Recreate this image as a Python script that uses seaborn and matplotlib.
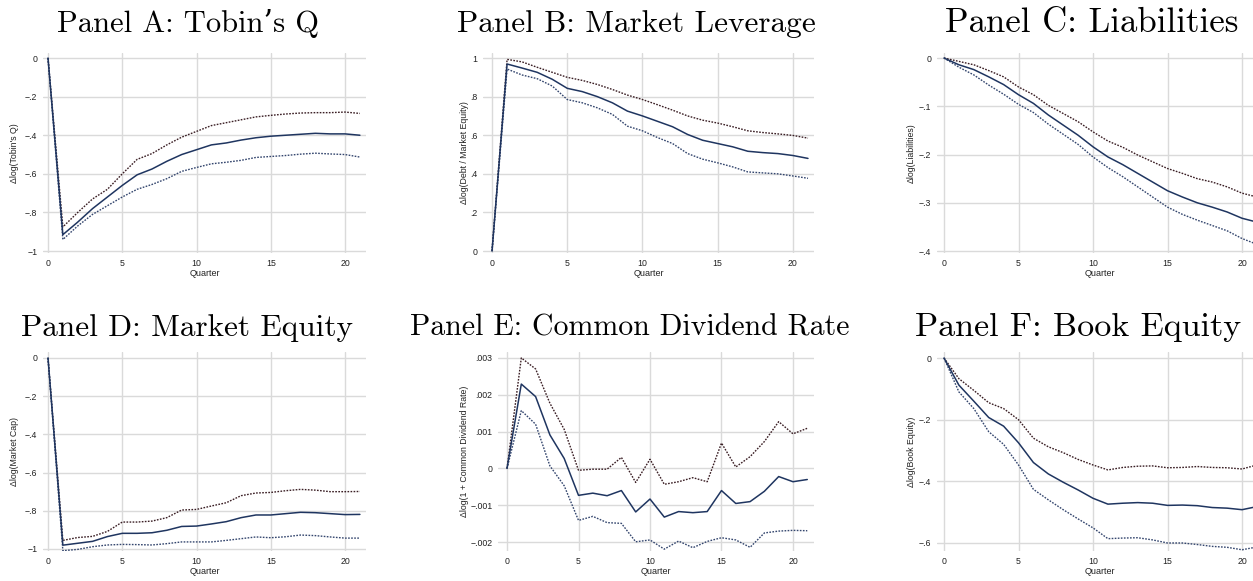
import numpy as np
import pandas as pd
import matplotlib
matplotlib.use("Agg")
import matplotlib.pyplot as plt
import seaborn as sns

# ---------------- data ----------------
quarters = list(range(22))

tobin_est = [0, -0.915, -0.85, -0.78, -0.72, -0.66, -0.605, -0.575, -0.535, -0.50, -0.475,
             -0.45, -0.44, -0.425, -0.413, -0.405, -0.40, -0.395, -0.39, -0.393, -0.393, -0.40]
tobin_hi = [0, -0.875, -0.80, -0.73, -0.68, -0.60, -0.525, -0.495, -0.45, -0.41, -0.38,
            -0.35, -0.335, -0.32, -0.305, -0.297, -0.29, -0.285, -0.283, -0.283, -0.28, -0.287]
tobin_lo = [0, -0.94, -0.87, -0.81, -0.765, -0.72, -0.68, -0.655, -0.625, -0.587, -0.567,
            -0.548, -0.54, -0.53, -0.515, -0.51, -0.505, -0.498, -0.493, -0.497, -0.50, -0.513]

lev_est = [0, 0.969, 0.948, 0.926, 0.89, 0.843, 0.826, 0.80, 0.768, 0.725, 0.70,
           0.672, 0.644, 0.604, 0.574, 0.557, 0.54, 0.517, 0.51, 0.505, 0.495, 0.48]
lev_hi = [0, 0.993, 0.98, 0.952, 0.926, 0.90, 0.884, 0.863, 0.837, 0.808, 0.785,
          0.758, 0.73, 0.70, 0.678, 0.663, 0.644, 0.623, 0.614, 0.607, 0.599, 0.585]
lev_lo = [0, 0.943, 0.912, 0.893, 0.855, 0.785, 0.768, 0.742, 0.708, 0.647, 0.623,
          0.588, 0.557, 0.505, 0.476, 0.457, 0.436, 0.41, 0.405, 0.40, 0.389, 0.377]

liab_est = [0, -0.014, -0.024, -0.039, -0.055, -0.076, -0.094, -0.118, -0.139, -0.16, -0.184,
            -0.205, -0.221, -0.239, -0.257, -0.275, -0.288, -0.30, -0.309, -0.319, -0.332, -0.34]
liab_hi = [0, -0.007, -0.014, -0.026, -0.039, -0.06, -0.076, -0.098, -0.115, -0.132, -0.153,
           -0.172, -0.185, -0.201, -0.215, -0.229, -0.239, -0.25, -0.257, -0.267, -0.28, -0.288]
liab_lo = [0, -0.019, -0.035, -0.056, -0.075, -0.096, -0.113, -0.137, -0.158, -0.179, -0.205,
           -0.227, -0.246, -0.267, -0.288, -0.309, -0.324, -0.336, -0.347, -0.358, -0.374, -0.386]

mcap_est = [0, -0.98, -0.97, -0.96, -0.935, -0.918, -0.918, -0.915, -0.902, -0.882, -0.88,
            -0.869, -0.857, -0.836, -0.822, -0.822, -0.815, -0.808, -0.81, -0.815, -0.82, -0.819]
mcap_hi = [0, -0.955, -0.94, -0.934, -0.908, -0.859, -0.859, -0.854, -0.836, -0.796, -0.793,
           -0.775, -0.758, -0.721, -0.707, -0.704, -0.695, -0.688, -0.692, -0.70, -0.70, -0.699]
mcap_lo = [0, -1.009, -1.002, -0.988, -0.979, -0.976, -0.977, -0.979, -0.972, -0.963, -0.963,
           -0.963, -0.955, -0.946, -0.937, -0.941, -0.936, -0.927, -0.93, -0.937, -0.943, -0.943]

div_est = [0, 0.00229, 0.00195, 0.00091, 0.00027, -0.00073, -0.00067, -0.00074, -0.0006, -0.00118, -0.00083,
           -0.00132, -0.00117, -0.0012, -0.00117, -0.0006, -0.00095, -0.0009, -0.00062, -0.00022, -0.00036, -0.0003]
div_hi = [0, 0.0030, 0.0027, 0.00177, 0.00106, -0.00005, -0.00002, -0.00002, 0.0003, -0.00038, 0.00025,
          -0.00043, -0.00036, -0.00025, -0.00036, 0.00069, 0.00004, 0.00032, 0.00073, 0.00127, 0.00094, 0.00109]
div_lo = [0, 0.00157, 0.0012, 0.00007, -0.00047, -0.00141, -0.0013, -0.00147, -0.00149, -0.00199, -0.00194,
          -0.00219, -0.00197, -0.00215, -0.00198, -0.00188, -0.00194, -0.00214, -0.00175, -0.0017, -0.00168, -0.00169]

book_est = [0, -0.088, -0.14, -0.193, -0.221, -0.275, -0.339, -0.376, -0.403, -0.428, -0.455,
            -0.474, -0.471, -0.469, -0.471, -0.478, -0.477, -0.479, -0.485, -0.487, -0.492, -0.482]
book_hi = [0, -0.067, -0.105, -0.145, -0.164, -0.20, -0.26, -0.288, -0.307, -0.329, -0.347,
           -0.363, -0.355, -0.351, -0.35, -0.356, -0.355, -0.352, -0.355, -0.356, -0.36, -0.347]
book_lo = [0, -0.11, -0.164, -0.239, -0.28, -0.347, -0.426, -0.46, -0.492, -0.522, -0.551,
           -0.586, -0.584, -0.583, -0.59, -0.60, -0.60, -0.605, -0.611, -0.614, -0.622, -0.613]

titles = ["Panel A: Tobin\u2019s Q", "Panel B: Market Leverage", "Panel C: Liabilities",
          "Panel D: Market Equity", "Panel E: Common Dividend Rate", "Panel F: Book Equity"]
ylabels = ["\u0394log(Tobin's Q)", "\u0394log(Debt / Market Equity)", "\u0394log(Liabilities)",
           "\u0394log(Market Cap)", "\u0394log(1 + Common Dividend Rate)", "\u0394log(Book Equity)"]
xlabel = "Quarter"
xticks = [0, 5, 10, 15, 20]
yticks = [[0, -0.2, -0.4, -0.6, -0.8, -1],
          [0, 0.2, 0.4, 0.6, 0.8, 1],
          [0, -0.1, -0.2, -0.3, -0.4],
          [0, -0.2, -0.4, -0.6, -0.8, -1],
          [0.003, 0.002, 0.001, 0, -0.001, -0.002],
          [0, -0.2, -0.4, -0.6]]

series = [(tobin_est, tobin_hi, tobin_lo), (lev_est, lev_hi, lev_lo), (liab_est, liab_hi, liab_lo),
          (mcap_est, mcap_hi, mcap_lo), (div_est, div_hi, div_lo), (book_est, book_hi, book_lo)]

# ---------------- layout (pixels) ----------------
W, H = 1253, 581
# left, right, top, bottom in px ; xlim ; ylim
boxes = [(43, 366, 53, 253, (-0.337, 21.41), (-1.010, 0.026)),
         (483, 814, 53, 253, (-0.60, 21.4), (-0.010, 1.026)),
         (937, 1262, 53, 253, (-0.47, 21.34), (-0.404, 0.0104)),
         (43, 366, 352, 551, (-0.337, 21.41), (-1.0105, 0.031)),
         (498, 814, 352, 551, (-0.63, 21.47), (-0.00224, 0.00316)),
         (937, 1262, 352, 551, (-0.47, 21.34), (-0.626, 0.0195))]
# centre x, baseline y (px), font size
title_pos = [(188, 32, 22), (636, 32, 22.5), (1092, 32, 25),
             (187, 336, 22.5), (630, 336, 21.5), (1078, 336, 24.5)]
ylabel_x = [15, 465, 912, 15, 465, 912]

sns.set_theme(style="white")
plt.rcParams['font.family'] = ['Liberation Sans', 'DejaVu Sans']
plt.rcParams['axes.unicode_minus'] = True

c_est = "#1f3560"
c_hi = "#3a1e24"
c_lo = "#34466e"


def fmt(v):
    if abs(v) < 1e-12:
        return "0"
    s = ("%g" % abs(v))
    if s.startswith("0."):
        s = s[1:]
    return ("\u2212" if v < 0 else "") + s


fig = plt.figure(figsize=(W / 100, H / 100), dpi=100)
fig.patch.set_facecolor("white")

for i in range(6):
    l, r, t, b, xl, yl = boxes[i]
    ax = fig.add_axes([l / W, 1 - b / H, (r - l) / W, (b - t) / H])
    est, hi, lo = series[i]
    sns.lineplot(x=quarters, y=hi, ax=ax, color=c_hi, linewidth=1.0)
    sns.lineplot(x=quarters, y=lo, ax=ax, color=c_lo, linewidth=1.0)
    sns.lineplot(x=quarters, y=est, ax=ax, color=c_est, linewidth=1.1)
    for ln in ax.lines[:2]:
        ln.set_linestyle((0, (1.2, 1.0)))
    ax.set_xlim(*xl)
    ax.set_ylim(*yl)
    ax.set_xticks(xticks)
    ax.set_xticklabels([str(x) for x in xticks])
    ax.set_yticks(yticks[i])
    ax.set_yticklabels([fmt(v) for v in yticks[i]])
    ax.tick_params(axis="both", length=0, labelsize=6.3, colors="#222222")
    ax.tick_params(axis="y", pad=4)
    ax.tick_params(axis="x", pad=4)
    ax.grid(True, color="#dadada", linewidth=1.0)
    ax.set_axisbelow(True)
    for sp in ax.spines.values():
        sp.set_visible(False)
    ax.set_xlabel(xlabel, fontsize=6.5, color="#222222", labelpad=1)
    ax.set_ylabel(ylabels[i], fontsize=6.3, color="#222222")
    ax.yaxis.set_label_coords((ylabel_x[i] + 4 - l) / (r - l), 0.5)
    tx, ty, fs = title_pos[i]
    fig.text(tx / W, 1 - ty / H, titles[i], ha="center", va="baseline",
             fontsize=fs, family=["cmr10", "DejaVu Serif"], color="black")

fig.savefig("out.png", dpi=100, facecolor="white")
